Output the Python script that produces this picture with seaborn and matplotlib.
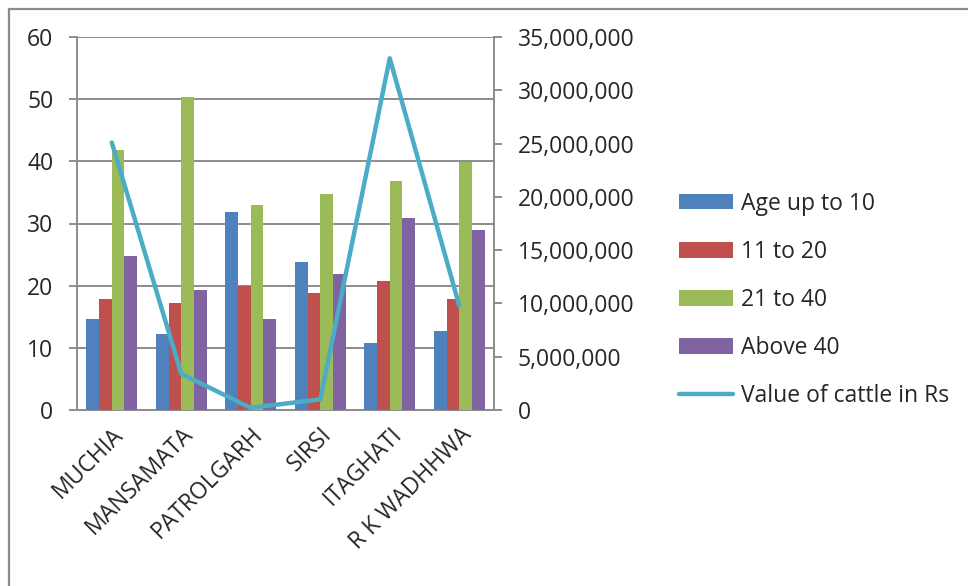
import matplotlib
matplotlib.use("Agg")
import matplotlib.pyplot as plt
import matplotlib.patches as mpatches
from matplotlib.lines import Line2D
from matplotlib.ticker import FuncFormatter, MultipleLocator, FixedLocator
import seaborn as sns
import pandas as pd

villages = ["MUCHIA", "MANSAMATA", "PATROLGARH", "SIRSI", "ITAGHATI", "R K WADHHWA"]
age_groups = ["Age up to 10", "11 to 20", "21 to 40", "Above 40"]
age_up_to_10 = [14.6, 12.3, 31.8, 23.8, 10.8, 12.7]
age_11_20 = [17.9, 17.2, 19.9, 18.9, 20.8, 17.9]
age_21_40 = [41.9, 50.3, 32.9, 34.8, 36.8, 39.9]
age_above_40 = [24.7, 19.3, 14.6, 21.8, 30.9, 28.9]
cattle_value = [25_100_000, 3_400_000, 200_000, 1_000_000, 33_000_000, 9_800_000]
line_label = "Value of cattle in Rs"

bar_colors = ["#4F81BD", "#C0504D", "#9BBB59", "#8064A2"]
line_color = "#4BACC6"
grid_color = "#8c8c8c"
text_color = "#262626"
fs = 16.5

sns.set_theme(style="white")
plt.rcParams["font.family"] = ["Open Sans", "DejaVu Sans"]

rows = []
for grp, vals in zip(age_groups, [age_up_to_10, age_11_20, age_21_40, age_above_40]):
    for v, val in zip(villages, vals):
        rows.append({"Village": v, "Age": grp, "Count": val})
bars = pd.DataFrame(rows)
line_df = pd.DataFrame({"Village": villages, "Value": cattle_value})

fig = plt.figure(figsize=(9.68, 5.86), dpi=100)
ax = fig.add_axes([77 / 968, 1 - 410 / 586, (494 - 77) / 968, (410 - 37) / 586])

sns.barplot(data=bars, x="Village", y="Count", hue="Age", order=villages,
            hue_order=age_groups, palette=bar_colors, width=0.73,
            saturation=1, errorbar=None, ax=ax, legend=False, zorder=3,
            linewidth=0, edgecolor="none")

ax.set_ylim(0, 60)
ax.set_xlim(-0.5, len(villages) - 0.5)
ax.yaxis.set_major_locator(MultipleLocator(10))
ax.grid(axis="y", color=grid_color, linewidth=1.4, zorder=0)
ax.set_axisbelow(True)
ax.set_xlabel("")
ax.set_ylabel("")
for side in ["top", "right"]:
    ax.spines[side].set_visible(False)
for side in ["left", "bottom"]:
    ax.spines[side].set_color(grid_color)
    ax.spines[side].set_linewidth(1.4)

ax.set_xticks(range(len(villages)))
ax.set_xticklabels(villages, rotation=45, ha="right", rotation_mode="anchor",
                   fontsize=fs, color=text_color)
ax.xaxis.set_minor_locator(FixedLocator([i - 0.5 for i in range(len(villages) + 1)]))
ax.tick_params(axis="x", which="major", length=0, pad=9)
ax.tick_params(axis="x", which="minor", length=6, width=1.4, color=grid_color, direction="out")
ax.tick_params(axis="y", length=6, width=1.4, color=grid_color, direction="out",
               labelsize=fs, labelcolor=text_color, pad=11)

ax2 = ax.twinx()
sns.lineplot(data=line_df, x="Village", y="Value", color=line_color, linewidth=3.2,
             ax=ax2, sort=False, zorder=4)
ax2.set_ylim(0, 35_000_000)
ax2.set_xlim(-0.5, len(villages) - 0.5)
ax2.yaxis.set_major_locator(MultipleLocator(5_000_000))
ax2.yaxis.set_major_formatter(FuncFormatter(lambda v, p: f"{int(v):,}"))
ax2.set_ylabel("")
ax2.set_xlabel("")
for side in ["top", "left", "bottom"]:
    ax2.spines[side].set_visible(False)
ax2.spines["right"].set_color(grid_color)
ax2.spines["right"].set_linewidth(1.4)
ax2.tick_params(axis="y", length=6, width=1.4, color=grid_color, direction="out",
                labelsize=fs, labelcolor=text_color, pad=11)
ax2.grid(False)

handles = [mpatches.Patch(facecolor=c, edgecolor="none", label=g)
           for c, g in zip(bar_colors, age_groups)]
handles.append(Line2D([0], [0], color=line_color, linewidth=3.2, label=line_label))
fig.legend(handles=handles, loc="center left", bbox_to_anchor=(668 / 968, 1 - 300 / 586),
           frameon=False, fontsize=fs, labelcolor=text_color, handlelength=2.35,
           handleheight=0.65, handletextpad=0.35, labelspacing=1.05, borderpad=0)

fig.patches.append(mpatches.Rectangle((9 / 968, -0.1), 1.2, 1 - 9 / 586 + 0.1,
                                      transform=fig.transFigure, fill=False,
                                      edgecolor="#8c8c8c", linewidth=1.6))

fig.savefig("out.png", dpi=100, facecolor="white")
